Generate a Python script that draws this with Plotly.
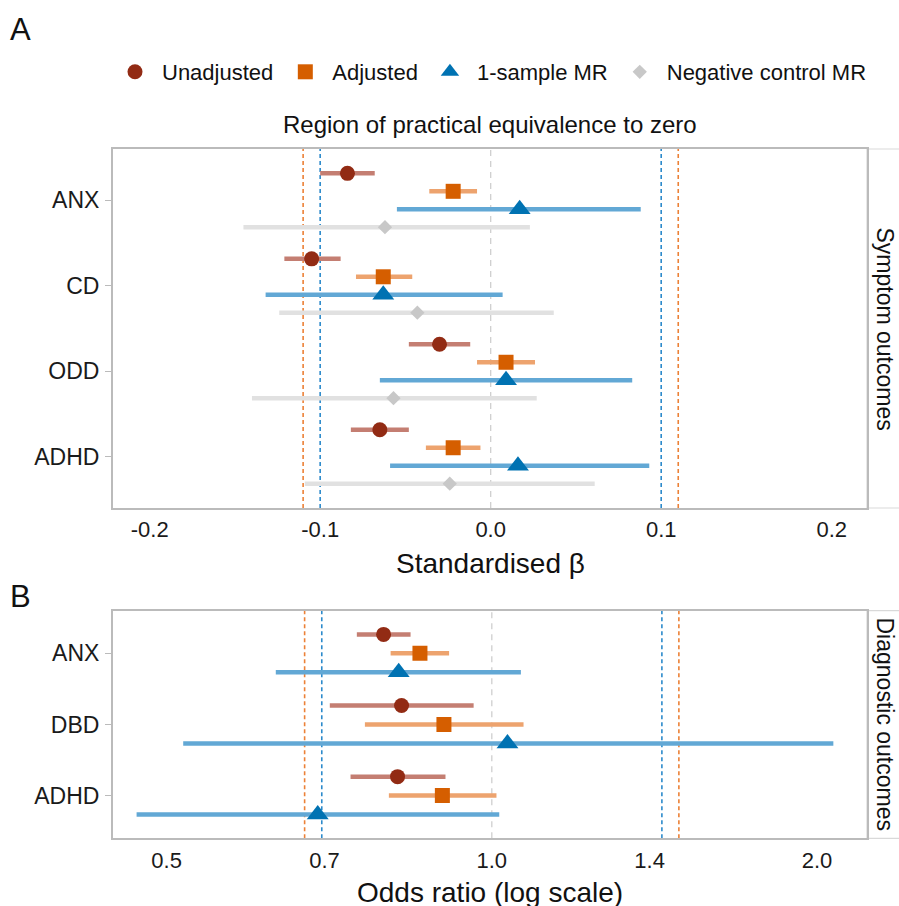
import math
import plotly.graph_objects as go

# ---------------- data ----------------
methods = ["Unadjusted", "Adjusted", "1-sample MR", "Negative control MR"]

# Panel A: standardised beta, symptom outcomes
outcomes_a = ["ANX", "CD", "ODD", "ADHD"]
unadj_a_est = [-0.084, -0.105, -0.030, -0.065]
unadj_a_lo = [-0.100, -0.121, -0.048, -0.082]
unadj_a_hi = [-0.068, -0.088, -0.012, -0.048]
adj_a_est = [-0.022, -0.063, 0.009, -0.022]
adj_a_lo = [-0.036, -0.079, -0.008, -0.038]
adj_a_hi = [-0.008, -0.046, 0.026, -0.006]
mr_a_est = [0.017, -0.063, 0.009, 0.016]
mr_a_lo = [-0.055, -0.132, -0.065, -0.059]
mr_a_hi = [0.088, 0.007, 0.083, 0.093]
nc_a_est = [-0.062, -0.043, -0.057, -0.024]
nc_a_lo = [-0.145, -0.124, -0.140, -0.109]
nc_a_hi = [0.023, 0.037, 0.027, 0.061]

# Panel B: odds ratios, diagnostic outcomes
outcomes_b = ["ANX", "DBD", "ADHD"]
unadj_b_est = [0.794, 0.825, 0.818]
unadj_b_lo = [0.750, 0.708, 0.740]
unadj_b_hi = [0.841, 0.962, 0.906]
adj_b_est = [0.858, 0.903, 0.900]
adj_b_lo = [0.806, 0.763, 0.803]
adj_b_hi = [0.913, 1.070, 1.010]
mr_b_est = [0.820, 1.034, 0.690]
mr_b_lo = [0.631, 0.518, 0.469]
mr_b_hi = [1.064, 2.071, 1.016]

# reference lines (region of practical equivalence)
rope_a_blue = [-0.10, 0.10]
rope_a_orange = [-0.11, 0.11]
rope_b_blue = [0.696, 1.437]
rope_b_orange = [0.671, 1.490]
null_a = 0.0
null_b = 1.0

ticks_a = [-0.2, -0.1, 0.0, 0.1, 0.2]
ticktext_a = ["-0.2", "-0.1", "0.0", "0.1", "0.2"]
ticks_b = [0.5, 0.7, 1.0, 1.4, 2.0]
ticktext_b = ["0.5", "0.7", "1.0", "1.4", "2.0"]

# ---------------- styles ----------------
point_colors = ["#922B14", "#D55E00", "#0072B2", "#C8C8C8"]
line_colors = ["#C47E72", "#EDA36E", "#62A8D5", "#E1E1E1"]
symbols = ["circle", "square", "triangle-up", "diamond"]
sizes = [15, 15, 19, 11]
FONT = "Liberation Sans, Arial, sans-serif"
FRAME = "#BBBBBB"

W, H = 899, 906
def px(x):
    return x / W
def py(y):
    return 1 - y / H

fig = go.Figure()

data_a = [
    (unadj_a_est, unadj_a_lo, unadj_a_hi),
    (adj_a_est, adj_a_lo, adj_a_hi),
    (mr_a_est, mr_a_lo, mr_a_hi),
    (nc_a_est, nc_a_lo, nc_a_hi),
]
data_b = [
    (unadj_b_est, unadj_b_lo, unadj_b_hi),
    (adj_b_est, adj_b_lo, adj_b_hi),
    (mr_b_est, mr_b_lo, mr_b_hi),
]

step_a = 0.21
for k, (est, lo, hi) in enumerate(data_a):
    off = (k - 1.5) * step_a
    fig.add_trace(go.Scatter(
        x=est, y=[i + off for i in range(len(outcomes_a))],
        mode="markers", name=methods[k], legendgroup=methods[k],
        marker=dict(symbol=symbols[k], size=sizes[k], color=point_colors[k], line=dict(width=0)),
        error_x=dict(type="data", symmetric=False,
                     array=[h - e for e, h in zip(est, hi)],
                     arrayminus=[e - l for e, l in zip(est, lo)],
                     color=line_colors[k], thickness=4.5, width=0),
        xaxis="x", yaxis="y", showlegend=True,
    ))

step_b = 0.267
for k, (est, lo, hi) in enumerate(data_b):
    off = (k - 1) * step_b
    fig.add_trace(go.Scatter(
        x=est, y=[i + off for i in range(len(outcomes_b))],
        mode="markers", name=methods[k], legendgroup=methods[k],
        marker=dict(symbol=symbols[k], size=sizes[k], color=point_colors[k], line=dict(width=0)),
        error_x=dict(type="data", symmetric=False,
                     array=[h - e for e, h in zip(est, hi)],
                     arrayminus=[e - l for e, l in zip(est, lo)],
                     color=line_colors[k], thickness=4.5, width=0),
        xaxis="x2", yaxis="y2", showlegend=False,
    ))

# panel geometry (pixels)
X0, X1 = 113, 867
A_T, A_B = 149, 508
B_T, B_B = 610.7, 838.3

shapes = []
def vline(x, color, xref, yref, dash="4px,3px", width=1.6):
    shapes.append(dict(type="line", xref=xref, yref=yref, x0=x, x1=x, y0=0, y1=1,
                       line=dict(color=color, width=width, dash=dash), layer="below"))

vline(null_a, "#CFCFCF", "x", "y domain", dash="6px,5px", width=1.3)
for v in rope_a_blue:
    vline(v, "#2C8ACB", "x", "y domain")
for v in rope_a_orange:
    vline(v, "#EC8137", "x", "y domain")
vline(null_b, "#CFCFCF", "x2", "y2 domain", dash="6px,5px", width=1.3)
for v in rope_b_blue:
    vline(v, "#2C8ACB", "x2", "y2 domain")
for v in rope_b_orange:
    vline(v, "#EC8137", "x2", "y2 domain")

# facet strips on the right
for (t, b) in [(A_T, A_B), (B_T, B_B)]:
    shapes.append(dict(type="rect", xref="paper", yref="paper",
                       x0=px(X1), x1=px(W + 20), y0=py(b), y1=py(t),
                       line=dict(color="#D9D9D9", width=1.2), fillcolor="white", layer="below"))

axis_common = dict(showgrid=False, zeroline=False, showline=True, mirror=True,
                   linecolor=FRAME, linewidth=2)
xtickfont = dict(family=FONT, size=22, color="#1A1A1A")
ytickfont = dict(family=FONT, size=23, color="#1A1A1A")

fig.update_layout(
    width=W, height=H,
    margin=dict(l=0, r=0, t=0, b=0),
    plot_bgcolor="white", paper_bgcolor="white",
    font=dict(family=FONT, color="#111111"),
    xaxis=dict(domain=[px(X0), px(X1)], range=[-0.2215, 0.2207], anchor="y",
               tickvals=ticks_a, ticktext=ticktext_a, ticks="outside", ticklen=1,
               tickcolor="rgba(0,0,0,0)", tickfont=xtickfont, **axis_common),
    yaxis=dict(domain=[py(A_B), py(A_T)], range=[3.6, -0.6], anchor="x",
               tickvals=list(range(len(outcomes_a))), ticktext=outcomes_a,
               ticks="outside", ticklen=6, tickcolor=FRAME, tickwidth=1.2, ticklabelstandoff=1,
               tickfont=ytickfont, **axis_common),
    xaxis2=dict(domain=[px(X0), px(X1)], type="log",
                range=[math.log10(0.446), math.log10(2.225)], anchor="y2",
                tickvals=ticks_b, ticktext=ticktext_b, ticks="outside", ticklen=1,
                tickcolor="rgba(0,0,0,0)", tickfont=xtickfont, **axis_common),
    yaxis2=dict(domain=[py(B_B), py(B_T)], range=[2.6, -0.6], anchor="x2",
                tickvals=list(range(len(outcomes_b))), ticktext=outcomes_b,
                ticks="outside", ticklen=6, tickcolor=FRAME, tickwidth=1.2, ticklabelstandoff=1,
                tickfont=ytickfont, **axis_common),
    legend=dict(orientation="h", x=px(108), y=py(72), xanchor="left", yanchor="middle",
                font=dict(family=FONT, size=22, color="#111111"), bgcolor="rgba(0,0,0,0)",
                itemwidth=44, itemclick=False),
    shapes=shapes,
    showlegend=True,
)

ann = [
    dict(text="A", x=px(8), y=py(29), xanchor="left", yanchor="middle", font=dict(size=31)),
    dict(text="B", x=px(8), y=py(596), xanchor="left", yanchor="middle", font=dict(size=31)),
    dict(text="Region of practical equivalence to zero", x=px(490), y=py(124),
         xanchor="center", yanchor="middle", font=dict(size=24)),
    dict(text="Standardised β", x=px(490), y=py(563), xanchor="center", yanchor="middle",
         font=dict(size=28)),
    dict(text="Odds ratio (log scale)", x=px(490), y=py(892), xanchor="center", yanchor="middle",
         font=dict(size=28)),
    dict(text="Symptom outcomes", x=px(885), y=py((A_T + A_B) / 2), xanchor="center",
         yanchor="middle", textangle=90, font=dict(size=23)),
    dict(text="Diagnostic outcomes", x=px(885), y=py((B_T + B_B) / 2), xanchor="center",
         yanchor="middle", textangle=90, font=dict(size=23)),
]
for a in ann:
    a.update(xref="paper", yref="paper", showarrow=False)
    a["font"] = dict(family=FONT, color="#111111", **a["font"])
fig.update_layout(annotations=ann)

fig.write_html(
    "out.html",
    config={"displayModeBar": False},
    post_script="document.body.style.margin='0';document.body.style.padding='0';"
                "document.body.style.overflow='hidden';",
)
